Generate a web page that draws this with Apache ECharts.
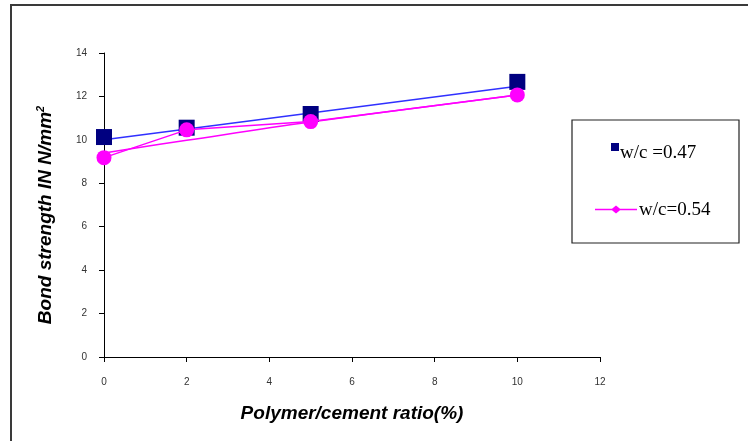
<!DOCTYPE html>
<html>
<head>
<meta charset="utf-8">
<script src="https://cdn.jsdelivr.net/npm/echarts@6/dist/echarts.min.js"></script>
<style>
html,body{margin:0;padding:0;background:#fff;}
#c{width:748px;height:441px;}
</style>
</head>
<body>
<div id="c"></div>
<script>
// Data
var ratios = [0, 2, 5, 10];
var wc047 = [10.13, 10.56, 11.19, 12.67];
var wc054 = [9.18, 10.46, 10.84, 12.07];
// trendlines as drawn in the picture
var trend047X = [0, 10];
var trend047 = [10.0, 12.47];
var trend054 = [9.4, 9.98, 10.82, 12.07];
var xTicks = [0, 2, 4, 6, 8, 10, 12];
var yTicks = [0, 2, 4, 6, 8, 10, 12, 14];
var seriesNames = ['w/c =0.47', 'w/c=0.54'];

function pairs(xs, ys) { return xs.map(function (x, i) { return [x, ys[i]]; }); }

var chart = echarts.init(document.getElementById('c'), null, {renderer: 'canvas'});
var labelFont = {fontFamily: 'Liberation Sans, Arial, sans-serif', fontSize: 10, color: '#333'};
var titleFont = {fontFamily: 'Liberation Sans, Arial, sans-serif', fontSize: 19, fontWeight: 'bold', fontStyle: 'italic', color: '#000'};
var legendFont = {fontFamily: 'Liberation Serif, Times New Roman, serif', fontSize: 19, color: '#000'};
var legendIcon054 = 'path://M0,3.2 L17,3.2 L21,0 L25,3.2 L42,3.2 L42,4.8 L25,4.8 L21,8 L17,4.8 L0,4.8 Z';
chart.setOption({
  animation: false,
  backgroundColor: '#fff',
  grid: {left: 104, right: 148, top: 53, bottom: 84, containLabel: false},
  xAxis: {
    type: 'value', min: xTicks[0], max: xTicks[xTicks.length - 1], interval: 2,
    splitLine: {show: false},
    axisLine: {show: true, onZero: false, lineStyle: {color: '#000', width: 1}},
    axisTick: {show: true, length: 5, lineStyle: {color: '#000'}},
    axisLabel: Object.assign({margin: 20}, labelFont),
    name: 'Polymer/cement ratio(%)', nameLocation: 'middle', nameGap: 47,
    nameTextStyle: titleFont
  },
  yAxis: {
    type: 'value', min: yTicks[0], max: yTicks[yTicks.length - 1], interval: 2,
    splitLine: {show: false},
    axisLine: {show: true, onZero: false, lineStyle: {color: '#000', width: 1}},
    axisTick: {show: true, length: 5, lineStyle: {color: '#000'}},
    axisLabel: Object.assign({margin: 17}, labelFont),
    name: '{a|Bond strength IN N/mm}{s|2}', nameLocation: 'middle', nameGap: 48,
    nameTextStyle: {
      padding: [0, 20, 0, 0],
      rich: {
        a: titleFont,
        s: {fontFamily: 'Liberation Sans, Arial, sans-serif', fontSize: 11, fontWeight: 'bold', fontStyle: 'italic', color: '#000', verticalAlign: 'top', padding: [0, 0, 10, 0]}
      }
    }
  },
  legend: [
    {
      data: [{name: seriesNames[0], icon: 'rect'}],
      left: 611, top: 143, orient: 'vertical', itemWidth: 8, itemHeight: 8, itemGap: 0, padding: 0,
      formatter: '{t|{name}}',
      textStyle: Object.assign({rich: {t: Object.assign({padding: [12, 0, 0, -4]}, legendFont)}}, legendFont)
    },
    {
      data: [{name: seriesNames[1], icon: legendIcon054}],
      left: 595, top: 201, orient: 'vertical', itemWidth: 42, itemHeight: 8, itemGap: 0, padding: 0,
      formatter: '{t|{name}}',
      textStyle: Object.assign({rich: {t: Object.assign({padding: [2, 0, 0, -3]}, legendFont)}}, legendFont)
    }
  ],
  graphic: [
    {type: 'rect', shape: {x: 11, y: 5, width: 800, height: 500}, style: {fill: null, stroke: '#3a3a3a', lineWidth: 2}, silent: true, z: 100},
    {type: 'rect', shape: {x: 572, y: 120, width: 167, height: 123}, style: {fill: '#fff', stroke: '#222', lineWidth: 1.2}, silent: true, z: -1}
  ],
  series: [
    {
      name: 'trend047', type: 'line', data: pairs(trend047X, trend047),
      symbol: 'none', lineStyle: {color: '#3030ff', width: 1.5}, z: 2, silent: true
    },
    {
      name: 'trend054', type: 'line', data: pairs(ratios, trend054), smooth: 0.4,
      symbol: 'none', lineStyle: {color: '#ff00ff', width: 1.5}, z: 2, silent: true
    },
    {
      name: seriesNames[0], type: 'scatter', data: pairs(ratios, wc047),
      symbol: 'rect', symbolSize: 16, itemStyle: {color: '#000080', opacity: 1}, z: 3
    },
    {
      name: seriesNames[1], type: 'line', data: pairs(ratios, wc054),
      symbol: 'circle', symbolSize: 15, showAllSymbol: true,
      itemStyle: {color: '#ff00ff', opacity: 1}, lineStyle: {color: '#ff00ff', width: 1.5}, z: 4
    }
  ]
});
</script>
</body>
</html>
